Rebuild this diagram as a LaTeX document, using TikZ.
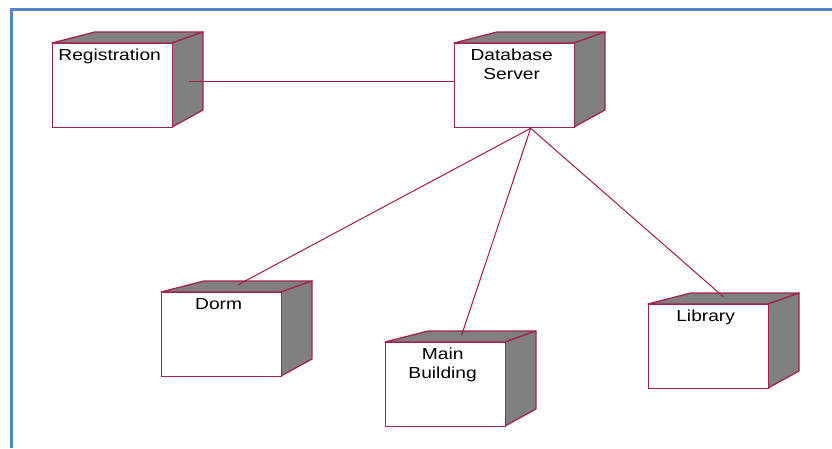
\documentclass[tikz,border=0pt]{standalone}
\usepackage{fontspec}
\newfontfamily\lblfont{Liberation Sans}[FakeStretch=1.2]
\usetikzlibrary{calc}
\definecolor{nodeborder}{HTML}{A3224F}
\definecolor{connline}{HTML}{9E1A4C}
\definecolor{facegray}{HTML}{808080}
\definecolor{framebl}{HTML}{5685C3}
\tikzset{
  front/.style={draw=nodeborder, fill=white, line width=1.3pt, minimum width=120pt, minimum height=84pt, inner sep=0pt, anchor=north west},
  face/.style={draw=nodeborder, fill=facegray, line width=1.3pt, line join=round},
  lbl/.style={font=\lblfont\fontsize{16}{19}\selectfont, inner sep=0pt, anchor=north, align=center, text=black},
  conn/.style={draw=connline, line width=1pt},
}
\newcommand\devbox[4]{%
  \fill[face] (#2,#3) -- +(43,-11) -- +(151,-11) -- +(120,0) -- cycle;
  \fill[face] (#2+120,#3) -- +(31,-11) -- +(31,67) -- +(0,84) -- cycle;
  \node[front] (#1) at (#2,#3) {};
  \node[lbl] (#1-t) at ($(#1.north)+(-3,6)$) {#4};
}
\begin{document}
\begin{tikzpicture}[x=1pt,y=-1pt]
\useasboundingbox (0,0) rectangle (832,448);
\draw[framebl, line width=3pt] (11,448) -- (11,9) -- (832,9);
\devbox{reg}{52}{43}{Registration}
\devbox{db}{454}{43}{Database\\Server}
\devbox{dorm}{161}{292}{Dorm}
\devbox{main}{385}{342}{Main\\Building}
\devbox{lib}{648}{304}{Library}
\coordinate (reg-p) at ($(reg.east)+(16,-4)$);
\coordinate (db-w) at ($(db.west)+(0,-4)$);
\coordinate (db-s) at ($(db.south)+(16,0)$);
\coordinate (dorm-p) at ($(dorm.north)+(16,-7)$);
\coordinate (main-p) at ($(main.north)+(16,-7)$);
\coordinate (lib-p) at ($(lib.north)+(15,-7)$);
\draw[conn] (reg-p) -- (db-w);
\draw[conn] (db-s) -- (dorm-p);
\draw[conn] (db-s) -- (main-p);
\draw[conn] (db-s) -- (lib-p);
\end{tikzpicture}
\end{document}
